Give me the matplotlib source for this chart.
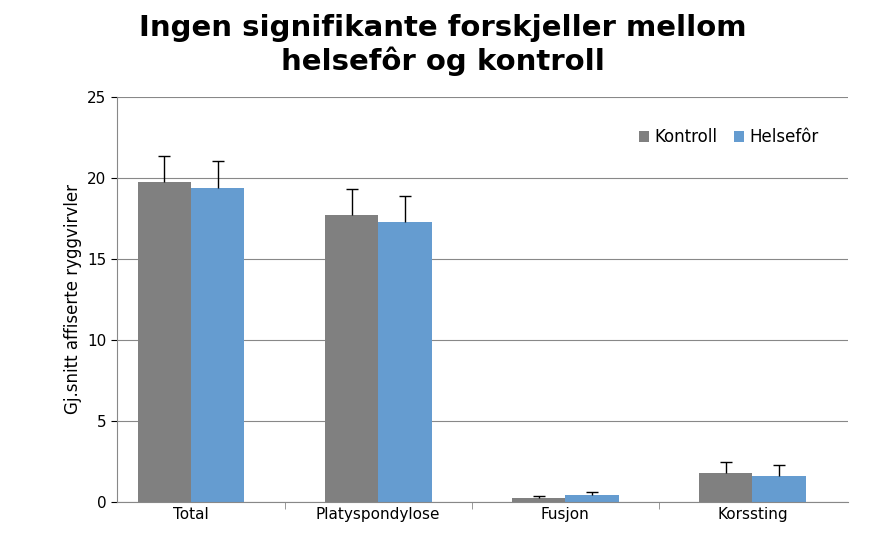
import matplotlib.pyplot as plt
import numpy as np

categories = ["Total", "Platyspondylose", "Fusjon", "Korssting"]
kontroll = [19.75, 17.7, 0.25, 1.8]
kontroll_err = [1.6, 1.65, 0.12, 0.67]
helsefor = [19.4, 17.28, 0.43, 1.6]
helsefor_err = [1.65, 1.6, 0.19, 0.68]

fig = plt.figure(figsize=(8.86, 5.51), dpi=100)
ax = fig.add_axes([0.132, 0.089, 0.825, 0.735])

x = np.arange(len(categories))
w = 0.285
for off, vals, errs, col, lab in [(-w / 2, kontroll, kontroll_err, "#808080", "Kontroll"),
                                  (w / 2, helsefor, helsefor_err, "#659CD0", "Helsefôr")]:
    xs = x + off
    ax.bar(xs, vals, w, color=col, label=lab, zorder=2)
    tops = np.array(vals) + np.array(errs)
    ax.vlines(xs, vals, tops, color="black", linewidth=1, zorder=3)
    ax.plot(xs, tops, linestyle="none", marker="_", markersize=8, color="black", zorder=3)

ax.set_xlim(-0.396, 3.51)
ax.set_ylim(0, 25)
ax.set_yticks(range(0, 26, 5))
ax.set_xticks(x)
ax.set_xticklabels(categories, fontsize=11)
ax.tick_params(axis="y", labelsize=11, length=4)
ax.tick_params(axis="x", length=0)
ax.yaxis.grid(True, color="#888888", linewidth=0.8, zorder=0)
for s in ["top", "right"]:
    ax.spines[s].set_visible(False)
ax.spines["left"].set_color("#888888")
ax.spines["bottom"].set_color("#888888")
ax.set_ylabel("Gj.snitt affiserte ryggvirvler", fontsize=12)
ax.set_xticks(np.arange(0.5, 3.5, 1), minor=True)
ax.tick_params(axis="x", which="minor", length=5, color="#888888")

ax.legend(loc="upper right", bbox_to_anchor=(0.98, 0.96), frameon=False, fontsize=12,
          handlelength=0.6, handleheight=0.6, columnspacing=1.0, ncol=2, handletextpad=0.3)
fig.suptitle("Ingen signifikante forskjeller mellom\nhelsefôr og kontroll", fontsize=21,
             fontweight="bold", y=0.975)
fig.savefig("out.png", dpi=100)
